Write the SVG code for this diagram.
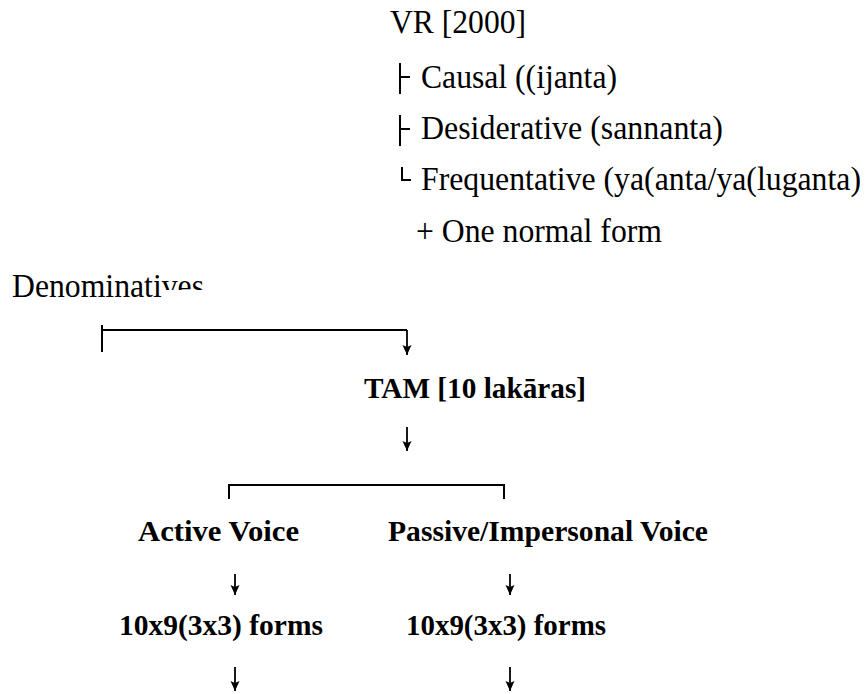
<svg xmlns="http://www.w3.org/2000/svg" width="866" height="694" viewBox="0 0 866 694" font-family="Liberation Serif, DejaVu Serif, serif">
<style>
.r{font-family:'Liberation Serif','DejaVu Serif',serif;font-size:31px;fill:#000}
.b{font-family:'Liberation Serif','DejaVu Serif',serif;font-size:29px;font-weight:bold;fill:#000}
.ln{stroke:#000;stroke-width:2;fill:none}
.ar{stroke:#000;stroke-width:1.8;fill:none;marker-end:url(#ah)}
</style>
<defs>
<marker id="ah" markerUnits="userSpaceOnUse" markerWidth="11" markerHeight="10" refX="10" refY="4.5" orient="auto">
<path d="M0,0 L10,4.5 L0,9 L2,4.5 z" fill="#000"/>
</marker>
<clipPath id="denclip">
<polygon points="0,250 300,250 300,290 166,290 166,320 0,320"/>
</clipPath>
</defs>
<rect width="866" height="694" fill="#fff"/>
<g id="vr"><text class="r" transform="translate(390,33) scale(1,1.1)" textLength="136" lengthAdjust="spacingAndGlyphs">VR [2000]</text></g>
<g id="causal"><text class="r" transform="translate(421,88) scale(1,1.1)" textLength="196" lengthAdjust="spacingAndGlyphs">Causal ((ijanta)</text></g>
<g id="desiderative"><text class="r" transform="translate(421,139) scale(1,1.1)" textLength="302" lengthAdjust="spacingAndGlyphs">Desiderative (sannanta)</text></g>
<g id="frequentative"><text class="r" transform="translate(421,190) scale(1,1.1)" textLength="440" lengthAdjust="spacingAndGlyphs">Frequentative (ya(anta/ya(luganta)</text></g>
<g id="normal"><text class="r" transform="translate(416,242) scale(1,1.1)" textLength="246" lengthAdjust="spacingAndGlyphs">+ One normal form</text></g>
<g id="denominatives"><g clip-path="url(#denclip)"><text class="r" transform="translate(12,297) scale(1,1.1)" textLength="192" lengthAdjust="spacingAndGlyphs">Denominatives</text></g></g>
<g id="tam"><text class="b" transform="translate(364,398) scale(1,1.05)" textLength="222" lengthAdjust="spacingAndGlyphs">TAM [10 lakāras]</text></g>
<g id="active"><text class="b" transform="translate(138,541) scale(1,1.05)" textLength="161" lengthAdjust="spacingAndGlyphs">Active Voice</text></g>
<g id="passive"><text class="b" transform="translate(388,541) scale(1,1.05)" textLength="320" lengthAdjust="spacingAndGlyphs">Passive/Impersonal Voice</text></g>
<g id="forms-active"><text class="b" transform="translate(119,635) scale(1,1.05)" textLength="204" lengthAdjust="spacingAndGlyphs">10x9(3x3) forms</text></g>
<g id="forms-passive"><text class="b" transform="translate(406,635) scale(1,1.05)" textLength="200" lengthAdjust="spacingAndGlyphs">10x9(3x3) forms</text></g>
<g id="connectors">
<path class="ln" stroke-width="2.4" d="M400,63 V94 M400,77 H410"/>
<path class="ln" stroke-width="2.4" d="M400,115 V146 M400,129 H410"/>
<path class="ln" d="M402,167 V180 H411"/>
<path class="ln" d="M102,325 V352 M102,330 H407"/>
<path class="ar" d="M407,330 V355"/>
<path class="ar" d="M407,427 V451"/>
<path class="ln" stroke-width="2.4" d="M229,499 V485 H504 V499"/>
<path class="ar" d="M235,574 V595"/>
<path class="ar" d="M510,574 V595"/>
<path class="ar" d="M235,667 V691"/>
<path class="ar" d="M510,667 V691"/>
</g>
</svg>
